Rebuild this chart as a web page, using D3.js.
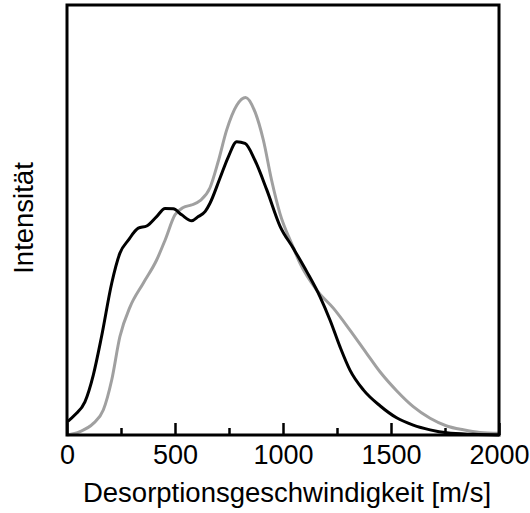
<!DOCTYPE html>
<html>
<head>
<meta charset="utf-8">
<script src="https://cdn.jsdelivr.net/npm/d3@7"></script>
<style>
  body { margin: 0; background: #fff; }
  svg { font-family: "Liberation Sans", Arial, sans-serif; }
  .axis text { font-size: 27px; fill: #000; }
  .axis line { stroke: #000; stroke-width: 2.5; }
</style>
</head>
<body>
<script>
'use strict';
// Geschwindigkeit [m/s] und Intensität (willkürliche Einheit, 0..100)
const blackSpeed = [0, 37, 83, 122, 160, 207, 245, 284, 330, 369, 415, 454, 492, 531, 577, 608, 640, 662, 708, 747, 786, 824, 870, 925, 986, 1048, 1110, 1171, 1218, 1264, 1310, 1372, 1449, 1526, 1603, 1681, 1758, 1881, 2000];
const blackValue = [3.0, 4.7, 7.7, 14, 22.9, 35.3, 42.3, 45.3, 48.1, 48.6, 50.8, 52.7, 52.6, 51.2, 49.8, 50.8, 52.0, 53.9, 59.7, 64.7, 68.2, 67.8, 63.9, 57.0, 48.6, 43.4, 38.0, 32.2, 26.7, 20.5, 15.1, 10.5, 6.8, 4.0, 2.3, 1.2, 0.5, 0.15, 0];
const greySpeed = [0, 60, 122, 168, 207, 245, 292, 353, 415, 454, 500, 538, 577, 616, 662, 700, 739, 786, 827, 870, 909, 947, 986, 1040, 1079, 1156, 1233, 1310, 1387, 1449, 1526, 1603, 1681, 1758, 1835, 1912, 2000];
const greyValue = [0, 0.8, 2.7, 5.8, 12.8, 22.9, 29.8, 35.3, 40.7, 45.3, 51.2, 52.9, 53.5, 54.5, 57.5, 63.6, 70.9, 76.7, 78.5, 75.2, 68.6, 59.3, 51.5, 44.5, 39.9, 33.7, 29.5, 24.4, 19.0, 14.7, 10.3, 6.6, 3.9, 2.1, 1.2, 0.6, 0.4];
const majorTicks = [0, 500, 1000, 1500, 2000];
const minorTicks = [250, 750, 1250, 1750];

const plotLeft = 67, plotRight = 499, plotTop = 5, plotBottom = 435;

const svg = d3.select(document.body).append('svg')
  .attr('width', 530).attr('height', 513);

const x = d3.scaleLinear().domain([0, 2000]).range([plotLeft, plotRight]);
const y = d3.scaleLinear().domain([0, 100]).range([plotBottom, plotTop]);

function toPoints(sx, sy){
  return sx.map(function(d, i){ return [d, sy[i]]; });
}

const line = d3.line()
  .x(function(d){ return x(d[0]); })
  .y(function(d){ return y(d[1]); })
  .curve(d3.curveMonotoneX);

// graue Kurve zuerst, schwarze darüber
svg.append('path')
  .attr('d', line(toPoints(greySpeed, greyValue)))
  .attr('fill', 'none').attr('stroke', '#a0a0a0').attr('stroke-width', 3)
  .attr('stroke-linejoin', 'round');
svg.append('path')
  .attr('d', line(toPoints(blackSpeed, blackValue)))
  .attr('fill', 'none').attr('stroke', '#000').attr('stroke-width', 3)
  .attr('stroke-linejoin', 'round');

// Rahmen
svg.append('rect')
  .attr('x', plotLeft).attr('y', plotTop)
  .attr('width', plotRight - plotLeft).attr('height', plotBottom - plotTop)
  .attr('fill', 'none').attr('stroke', '#000').attr('stroke-width', 3);

// x-Achse: Hauptstriche nach innen
const xAxis = d3.axisBottom(x).tickValues(majorTicks).tickFormat(d3.format('d'))
  .tickSize(-12).tickPadding(10);
const gx = svg.append('g').attr('class', 'axis')
  .attr('transform', 'translate(0,' + plotBottom + ')')
  .call(xAxis);
gx.select('.domain').remove();
gx.selectAll('text').attr('font-family', '"Liberation Sans", Arial, sans-serif').attr('font-size', 27.5);

// Nebenstriche
const gm = svg.append('g').attr('class', 'axis')
  .attr('transform', 'translate(0,' + plotBottom + ')')
  .call(d3.axisBottom(x).tickValues(minorTicks).tickSize(-7).tickFormat(''));
gm.select('.domain').remove();

// Achsentitel
svg.append('text')
  .attr('x', 287).attr('y', 502)
  .attr('text-anchor', 'middle').attr('font-size', 27.5)
  .text('Desorptionsgeschwindigkeit [m/s]');
svg.append('text')
  .attr('transform', 'translate(33,218) rotate(-90)')
  .attr('text-anchor', 'middle').attr('font-size', 27.5)
  .text('Intensität');
</script>
</body>
</html>
